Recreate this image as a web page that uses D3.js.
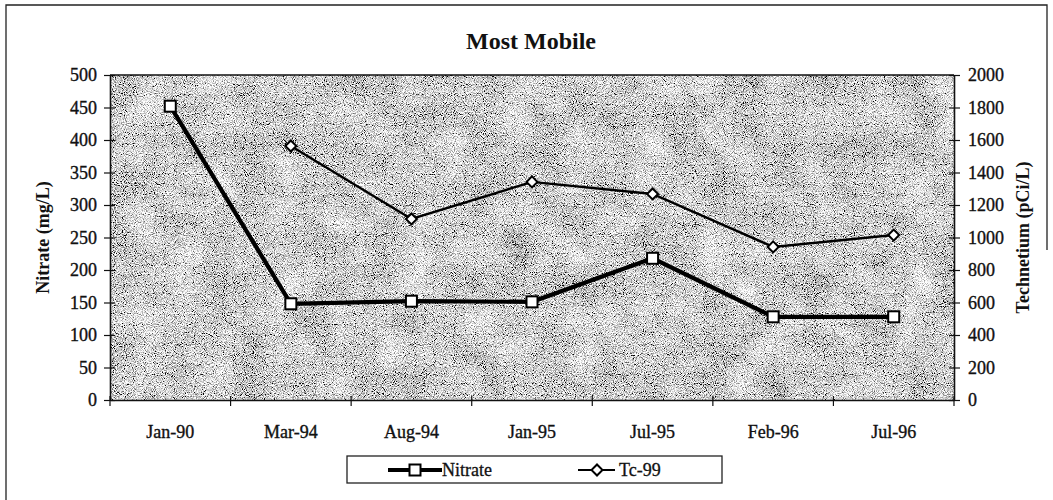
<!DOCTYPE html>
<html>
<head>
<meta charset="utf-8">
<script src="https://cdn.jsdelivr.net/npm/d3@7"></script>
<style>
  html, body { margin: 0; padding: 0; background: #fff; }
  svg { display: block; }
  text { font-family: "Liberation Serif", "Times New Roman", serif; fill: #111; }
</style>
</head>
<body>
<svg id="chart" width="1053" height="500"></svg>
<script>
// Sampling dates (x categories)
const categories = ["Jan-90", "Mar-94", "Aug-94", "Jan-95", "Jul-95", "Feb-96", "Jul-96"];
// Nitrate concentration, mg/L (left axis)
const nitrate = [452, 148, 152, 151, 218, 128, 128];
// Technetium-99 activity, pCi/L (right axis); no reading for Jan-90
const tc99 = [null, 1563, 1114, 1342, 1268, 942, 1015];
// Axis tick values
const leftTicks = [0, 50, 100, 150, 200, 250, 300, 350, 400, 450, 500];
const rightTicks = [0, 200, 400, 600, 800, 1000, 1200, 1400, 1600, 1800, 2000];

const svg = d3.select("#chart");
const W = 1053, H = 500;
const plot = { left: 110, right: 954, top: 75, bottom: 400 };
const serif = "Liberation Serif, Times New Roman, serif";

// Outer chart frame
svg.append("path")
  .attr("d", `M6,${H + 5} L6,5 L1047,5 L1047,250`)
  .attr("fill", "none").attr("stroke", "#222").attr("stroke-width", 1.3);

// Stippled grey plot-area fill
const defs = svg.append("defs");
const f = defs.append("filter").attr("id", "grain")
  .attr("x", 0).attr("y", 0).attr("width", 1).attr("height", 1);
f.append("feTurbulence").attr("type", "fractalNoise").attr("baseFrequency", 1.1)
  .attr("numOctaves", 1).attr("seed", 7).attr("result", "fine");
f.append("feTurbulence").attr("type", "fractalNoise").attr("baseFrequency", 0.03)
  .attr("numOctaves", 2).attr("seed", 3).attr("result", "coarse");
f.append("feComposite").attr("in", "fine").attr("in2", "coarse")
  .attr("operator", "arithmetic").attr("k1", 0).attr("k2", 1).attr("k3", 0.15).attr("k4", -0.075)
  .attr("result", "mix");
f.append("feColorMatrix").attr("in", "mix").attr("type", "matrix")
  .attr("values", "3 0 0 0 -0.62  3 0 0 0 -0.62  3 0 0 0 -0.62  0 0 0 0 1");

svg.append("rect")
  .attr("x", plot.left).attr("y", plot.top)
  .attr("width", plot.right - plot.left).attr("height", plot.bottom - plot.top)
  .attr("fill", "#b4b4b4").attr("filter", "url(#grain)");

// Scales
const x = d3.scaleBand().domain(categories).range([plot.left, plot.right]);
const yL = d3.scaleLinear().domain([0, 500]).range([plot.bottom, plot.top]);
const yR = d3.scaleLinear().domain([0, 2000]).range([plot.bottom, plot.top]);
const cx = d => x(d) + x.bandwidth() / 2;

// Top border of plot area
svg.append("line")
  .attr("x1", plot.left).attr("x2", plot.right)
  .attr("y1", yL(500)).attr("y2", yL(500))
  .attr("stroke", "#111").attr("stroke-width", 1.6);

// Left axis
const gL = svg.append("g").attr("transform", `translate(${plot.left},0)`)
  .call(d3.axisLeft(yL).tickValues(leftTicks).tickFormat(d3.format("d"))
    .tickSize(6).tickSizeOuter(0).tickPadding(7));
gL.selectAll(".tick line").attr("x1", 5);

// Right axis
const gR = svg.append("g").attr("transform", `translate(${plot.right},0)`)
  .call(d3.axisRight(yR).tickValues(rightTicks).tickFormat(d3.format("d"))
    .tickSize(6).tickSizeOuter(0).tickPadding(8));
gR.selectAll(".tick line").attr("x1", -5);

// Bottom axis: labels centred in each band, ticks on band boundaries
const gB = svg.append("g").attr("transform", `translate(0,${plot.bottom})`)
  .call(d3.axisBottom(x).tickSize(0).tickSizeOuter(0).tickPadding(25));
gB.selectAll(".tick text").attr("dy", "0.71em");
const bounds = categories.map(c => x(c)).concat([x(categories[categories.length - 1]) + x.step()]);
gB.selectAll("line.sep").data(bounds).enter().append("line")
  .attr("class", "sep")
  .attr("x1", d => d).attr("x2", d => d).attr("y1", -4).attr("y2", 6)
  .attr("stroke", "#111").attr("stroke-width", 1.2);

[gL, gR, gB].forEach(g => {
  g.attr("font-family", serif);
  g.select(".domain").attr("stroke", "#111").attr("stroke-width", 1.6);
  g.selectAll(".tick line").attr("stroke", "#111").attr("stroke-width", 1.2);
  g.selectAll(".tick text").attr("font-size", 18)
    .attr("font-family", serif).attr("fill", "#111")
    .attr("stroke", "#111").attr("stroke-width", 0.35);
});

// Title and axis titles
svg.append("text").attr("x", 531).attr("y", 49).attr("text-anchor", "middle")
  .attr("font-size", 24).attr("font-weight", "bold").text("Most Mobile");
svg.append("text").attr("transform", `translate(49,${(plot.top + plot.bottom) / 2}) rotate(-90)`)
  .attr("text-anchor", "middle").attr("font-size", 18).attr("font-weight", "bold")
  .text("Nitrate (mg/L)");
svg.append("text").attr("transform", `translate(1029,${(plot.top + plot.bottom) / 2}) rotate(-90)`)
  .attr("text-anchor", "middle").attr("font-size", 18).attr("font-weight", "bold")
  .text("Technetium (pCi/L)");

// Tc-99 series: thin line with diamonds
const tcData = categories.map((c, i) => ({ c, v: tc99[i] })).filter(d => d.v != null);
svg.append("path").datum(tcData)
  .attr("fill", "none").attr("stroke", "#000").attr("stroke-width", 2.4)
  .attr("d", d3.line().x(d => cx(d.c)).y(d => yR(d.v)));
const diamond = d3.symbol().type(d3.symbolSquare).size(60);
svg.selectAll("path.tcpt").data(tcData).enter().append("path")
  .attr("class", "tcpt")
  .attr("d", diamond)
  .attr("transform", d => `translate(${cx(d.c)},${yR(d.v)}) rotate(45)`)
  .attr("fill", "#fff").attr("stroke", "#000").attr("stroke-width", 2);

// Nitrate series: heavy line with squares
const nData = categories.map((c, i) => ({ c, v: nitrate[i] }));
svg.append("path").datum(nData)
  .attr("fill", "none").attr("stroke", "#000").attr("stroke-width", 4.2)
  .attr("d", d3.line().x(d => cx(d.c)).y(d => yL(d.v)));
svg.selectAll("rect.npt").data(nData).enter().append("rect")
  .attr("class", "npt")
  .attr("x", d => cx(d.c) - 5.5).attr("y", d => yL(d.v) - 5.5)
  .attr("width", 11).attr("height", 11)
  .attr("fill", "#fff").attr("stroke", "#000").attr("stroke-width", 2);

// Legend
const lg = svg.append("g");
lg.append("rect").attr("x", 347).attr("y", 456).attr("width", 375).attr("height", 27)
  .attr("fill", "#fff").attr("stroke", "#222").attr("stroke-width", 1.3);
const ly = 470;
lg.append("line").attr("x1", 388).attr("x2", 442).attr("y1", ly).attr("y2", ly)
  .attr("stroke", "#000").attr("stroke-width", 4.2);
lg.append("rect").attr("x", 409.5).attr("y", ly - 5.5).attr("width", 11).attr("height", 11)
  .attr("fill", "#fff").attr("stroke", "#000").attr("stroke-width", 2);
lg.append("text").attr("x", 442).attr("y", ly + 6).attr("font-size", 18)
  .attr("stroke", "#111").attr("stroke-width", 0.3).text("Nitrate");
lg.append("line").attr("x1", 578).attr("x2", 615).attr("y1", ly).attr("y2", ly)
  .attr("stroke", "#000").attr("stroke-width", 2.2);
lg.append("path").attr("d", diamond).attr("transform", `translate(597,${ly}) rotate(45)`)
  .attr("fill", "#fff").attr("stroke", "#000").attr("stroke-width", 2);
lg.append("text").attr("x", 619).attr("y", ly + 6).attr("font-size", 18)
  .attr("stroke", "#111").attr("stroke-width", 0.3).text("Tc-99");
</script>
</body>
</html>
